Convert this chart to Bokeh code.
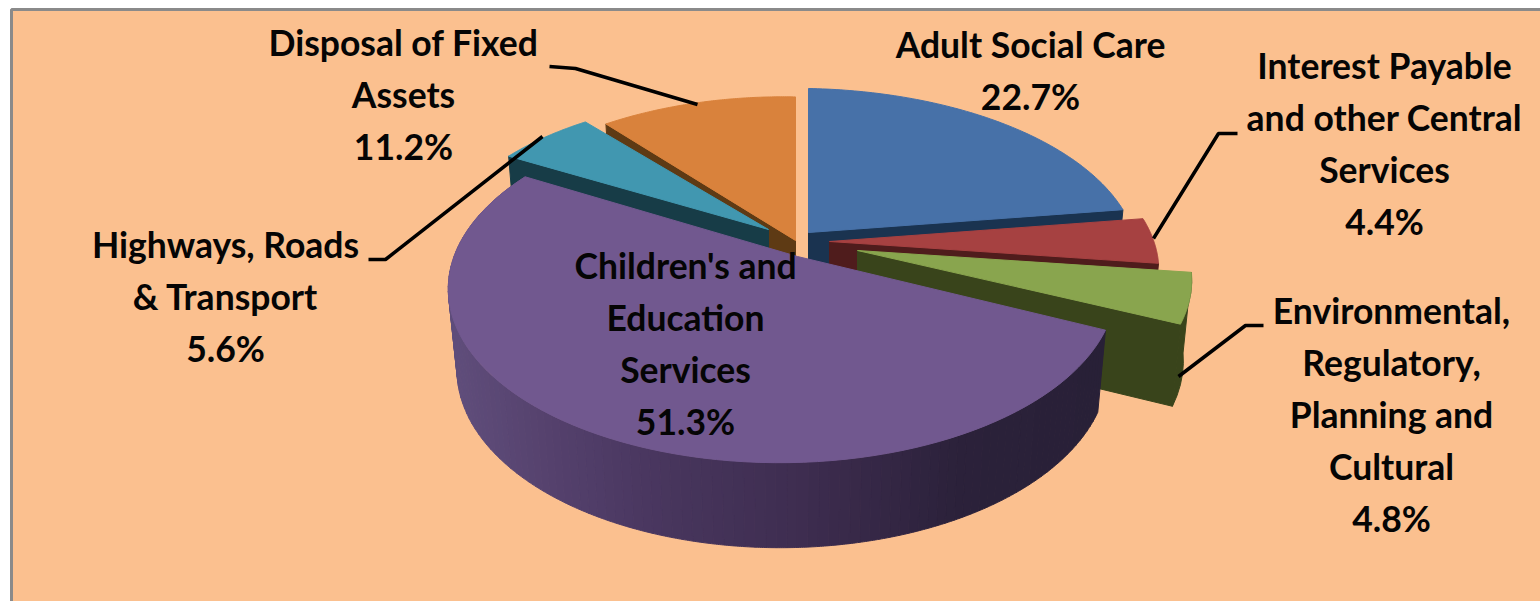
import numpy as np
from bokeh.core.properties import value
from bokeh.embed import file_html
from bokeh.models import ColumnDataSource, Range1d
from bokeh.plotting import figure
from bokeh.resources import INLINE

# Budget shares, clockwise from twelve o'clock
categories = ["Adult Social Care", "Interest Payable and other Central Services",
              "Environmental, Regulatory, Planning and Cultural",
              "Children's and Education Services", "Highways, Roads & Transport",
              "Disposal of Fixed Assets"]
shares = [22.7, 4.4, 4.8, 51.3, 5.6, 11.2]
label_lines = [["Adult Social Care"],
               ["Interest Payable", "and other Central", "Services"],
               ["Environmental,", "Regulatory,", "Planning and", "Cultural"],
               ["Children's and", "Education", "Services"],
               ["Highways, Roads", "& Transport"],
               ["Disposal of Fixed", "Assets"]]

top_colors = ["#4771a8", "#a64141", "#89a54e", "#71588f", "#4197b0", "#d9823c"]
wall_colors = ["#1a3350", "#4f1c1c", "#39441b", "#2b2139", "#173c47", "#5e3a14"]

# Exploded apex of each slice and its radii in page pixels
apex_x = [808, 829, 857, 797, 768, 795]
apex_y = [232, 241, 250, 256, 229, 240]
radius_x = [340, 339, 344, 328, 313, 324]
radius_y = [169.5, 169.5, 169.5, 169.5, 156, 169]

# Perspective terms of the tilted pie
TILT = 0.177
SKEW = 0.045
DEPTH = 80
DEPTH_FRONT = 5
SHRINK = 0.975

# Label block centres and first-line positions
label_cx = [1030, 1384, 1391, 685, 225, 403]
label_y = [44, 65, 310, 265, 244, 42]
LINE_STEP = 52

# Leader lines from the labels to the slices
leader_xs = [[1237, 1218, 1153], [1263, 1245, 1178], [368, 385, 542], [549, 575, 697]]
leader_ys = [[133, 133, 238], [325, 325, 376], [259, 259, 136], [66, 68, 104]]

ends = np.cumsum(shares) / np.sum(shares) * 2 * np.pi
starts = np.concatenate([[0], ends[:-1]])


def project(i, theta, lower=False):
    u, v = np.sin(theta), np.cos(theta)
    w = 1 + TILT * v + SKEW * u
    dx = radius_x[i] * u / w
    dy = -radius_y[i] * v / w
    if lower:
        return apex_x[i] + dx * SHRINK, apex_y[i] + dy + DEPTH - DEPTH_FRONT * v
    return apex_x[i] + dx, apex_y[i] + dy


def top_face(i):
    t = np.linspace(starts[i], ends[i], 90)
    x, y = project(i, t)
    return [apex_x[i], *x], [apex_y[i], *y]


def radial_wall(i, theta):
    x0, y0 = project(i, theta)
    x1, y1 = project(i, theta, True)
    return [apex_x[i], x0, x1, apex_x[i]], [apex_y[i], y0, y1, apex_y[i] + DEPTH]


def outer_wall(i, t0, t1):
    t = np.linspace(t0, t1, 6)
    x0, y0 = project(i, t)
    x1, y1 = project(i, t[::-1], True)
    return [*x0, *x1], [*y0, *y1]


p = figure(width=1540, height=601, output_backend="svg", toolbar_location=None,
           x_range=Range1d(0, 1540), y_range=Range1d(601, 0), min_border=0,
           background_fill_color="white", border_fill_color="white", outline_line_color=None)
p.axis.visible = False
p.grid.visible = False

# Chart area with its grey frame
p.quad(left=[11], right=[1600], top=[9], bottom=[660], fill_color="#fbc08f",
       line_color="#8a8a8a", line_width=3)


def fill(xs, ys, color):
    p.patch(xs, ys, fill_color=color, line_color=color, line_width=1)


# Back slices first, the large front slice last
for i, wall_theta in [(5, starts[5]), (4, starts[4]), (0, ends[0]), (1, ends[1])]:
    fill(*radial_wall(i, wall_theta), wall_colors[i])
    fill(*top_face(i), top_colors[i])

# Green slice: cut face, rim, top
fill(*radial_wall(2, ends[2]), wall_colors[2])
fill(*outer_wall(2, starts[2], ends[2]), wall_colors[2])
fill(*top_face(2), top_colors[2])

# Purple rim shaded from the lit left side to the dark right side
shade_x = [446, 560, 660, 800, 960, 1100]
shade_rgb = np.array([[96, 78, 124], [84, 64, 108], [72, 54, 94],
                      [62, 45, 80], [43, 33, 58], [40, 32, 55]], dtype=float)
edges = np.linspace(starts[3], ends[3], 120)
rim_xs, rim_ys, rim_colors = [], [], []
for a, b in zip(edges[:-1], edges[1:]):
    x, y = outer_wall(3, a, b)
    mid = np.mean(x)
    rgb = [int(round(np.interp(mid, shade_x, shade_rgb[:, c]))) for c in range(3)]
    rim_xs.append(x)
    rim_ys.append(y)
    rim_colors.append("#%02x%02x%02x" % tuple(rgb))
p.patches(rim_xs, rim_ys, fill_color=rim_colors, line_color=rim_colors, line_width=1)
fill(*top_face(3), top_colors[3])

p.multi_line(leader_xs, leader_ys, line_color="black", line_width=3.5)

# Labels: name lines followed by the share
tx, ty, tt = [], [], []
for i, lines in enumerate(label_lines):
    rows = lines + [f"{shares[i]:.1f}%"]
    for r, row in enumerate(rows):
        tx.append(label_cx[i])
        ty.append(label_y[i] + r * LINE_STEP)
        tt.append(row)
p.text(x="x", y="y", text="t", source=ColumnDataSource(dict(x=tx, y=ty, t=tt)),
       text_font=value("Lato"), text_font_style="bold", text_font_size="35.5px",
       text_align="center", text_baseline="middle", text_color="#050505")

open("out.html", "w").write(file_html(p, INLINE))
